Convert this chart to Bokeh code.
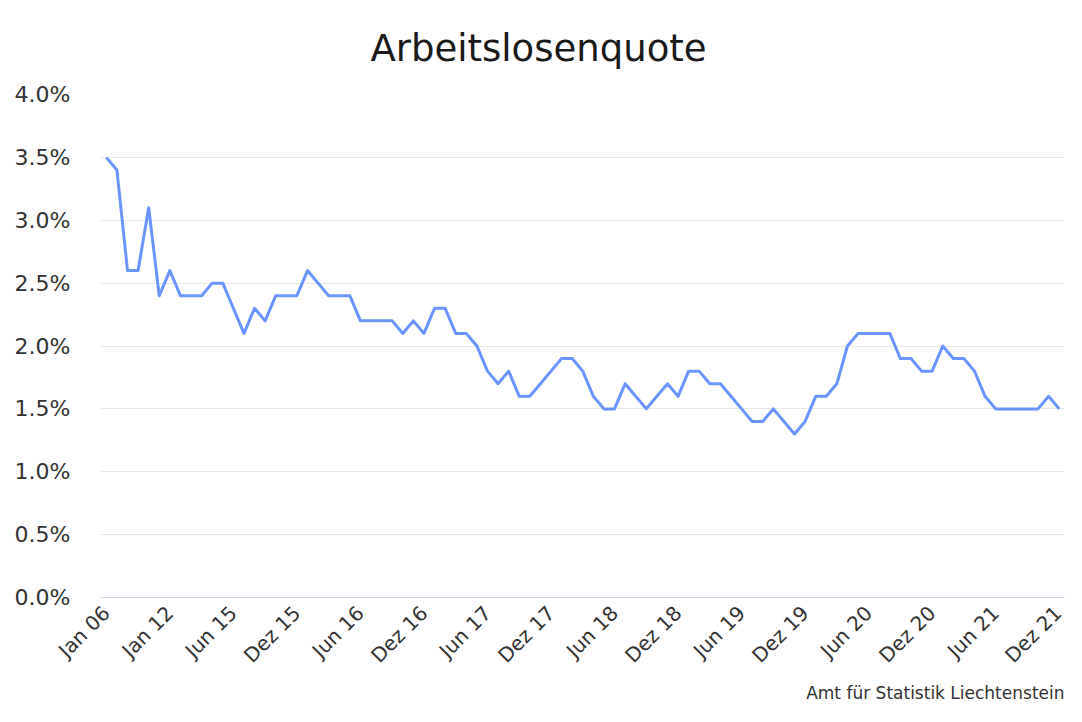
from bokeh.plotting import figure
from bokeh.models import FixedTicker, Range1d, Title, NumeralTickFormatter
from bokeh.embed import file_html
from bokeh.resources import INLINE
import math

labels = ["Jan 06", "Jan 07", "Jan 08", "Jan 09", "Jan 10", "Jan 11", "Jan 12",
          "Jan 15", "Feb 15", "Mär 15", "Apr 15", "Mai 15"]
months = ["Jan", "Feb", "Mär", "Apr", "Mai", "Jun", "Jul", "Aug", "Sep", "Okt", "Nov", "Dez"]
for yr in range(15, 22):
    for mi, m in enumerate(months):
        if yr == 15 and mi < 5:
            continue
        labels.append(f"{m} {yr}")

rate = [3.5, 3.4, 2.6, 2.6, 3.1, 2.4, 2.6, 2.4, 2.4, 2.4, 2.5, 2.5,
        2.3, 2.1, 2.3, 2.2, 2.4, 2.4, 2.4, 2.6, 2.5, 2.4, 2.4, 2.4,
        2.2, 2.2, 2.2, 2.2, 2.1, 2.2, 2.1, 2.3, 2.3, 2.1, 2.1, 2.0,
        1.8, 1.7, 1.8, 1.6, 1.6, 1.7, 1.8, 1.9, 1.9, 1.8, 1.6, 1.5,
        1.5, 1.7, 1.6, 1.5, 1.6, 1.7, 1.6, 1.8, 1.8, 1.7, 1.7, 1.6,
        1.5, 1.4, 1.4, 1.5, 1.4, 1.3, 1.4, 1.6, 1.6, 1.7, 2.0, 2.1,
        2.1, 2.1, 2.1, 1.9, 1.9, 1.8, 1.8, 2.0, 1.9, 1.9, 1.8, 1.6,
        1.5, 1.5, 1.5, 1.5, 1.5, 1.6, 1.5]

labels = labels[:len(rate)]
x = list(range(len(rate)))
y = [v / 100 for v in rate]
tick_idx = list(range(0, len(rate), 6))

FONT = "DejaVu Sans"

p = figure(width=1066, height=706, output_backend="svg", toolbar_location=None,
           x_range=Range1d(-0.55, len(rate) - 0.5), y_range=Range1d(0, 0.04),
           min_border_left=100, min_border_right=2, min_border_top=94, min_border_bottom=109)

p.title.text = "Arbeitslosenquote"
p.title.text_font = FONT
p.title.text_font_size = "37px"
p.title.text_font_style = "normal"
p.title.text_color = "#1a1a1a"
p.title.align = "left"
p.title.offset = 270
p.title.vertical_align = "top"
p.title.standoff = 46

p.line(x, y, line_color="#6a94ff", line_width=3, line_join="round")

p.outline_line_color = None
p.background_fill_color = "white"
p.border_fill_color = "white"

p.xgrid.grid_line_color = None
p.ygrid.grid_line_color = "#e6e6e6"
p.ygrid.grid_line_width = 1

p.yaxis.ticker = FixedTicker(ticks=[i * 0.005 for i in range(9)])
p.yaxis.formatter = NumeralTickFormatter(format="0.0%")
p.yaxis.axis_line_color = None
p.yaxis.major_tick_line_color = None
p.yaxis.minor_tick_line_color = None
p.yaxis.major_label_text_font = FONT
p.yaxis.major_label_text_font_size = "22px"
p.yaxis.major_label_text_color = "#333333"
p.yaxis.major_label_standoff = 24

p.xaxis.ticker = FixedTicker(ticks=tick_idx)
p.xaxis.major_label_overrides = {i: labels[i] for i in tick_idx}
p.xaxis.axis_line_color = "#ccd6eb"
p.xaxis.axis_line_width = 1
p.xaxis.major_tick_line_color = None
p.xaxis.minor_tick_line_color = None
p.xaxis.major_label_orientation = math.pi / 4
p.xaxis.major_label_text_font = FONT
p.xaxis.major_label_text_font_size = "20px"
p.xaxis.major_label_text_color = "#333333"
p.xaxis.major_label_standoff = 6

credit = Title(text="Amt für Statistik Liechtenstein", align="right",
               text_font=FONT, text_font_size="17px", text_font_style="normal",
               text_color="#333333", standoff=4)
p.add_layout(credit, "below")

open("out.html", "w").write(file_html(p, INLINE))
